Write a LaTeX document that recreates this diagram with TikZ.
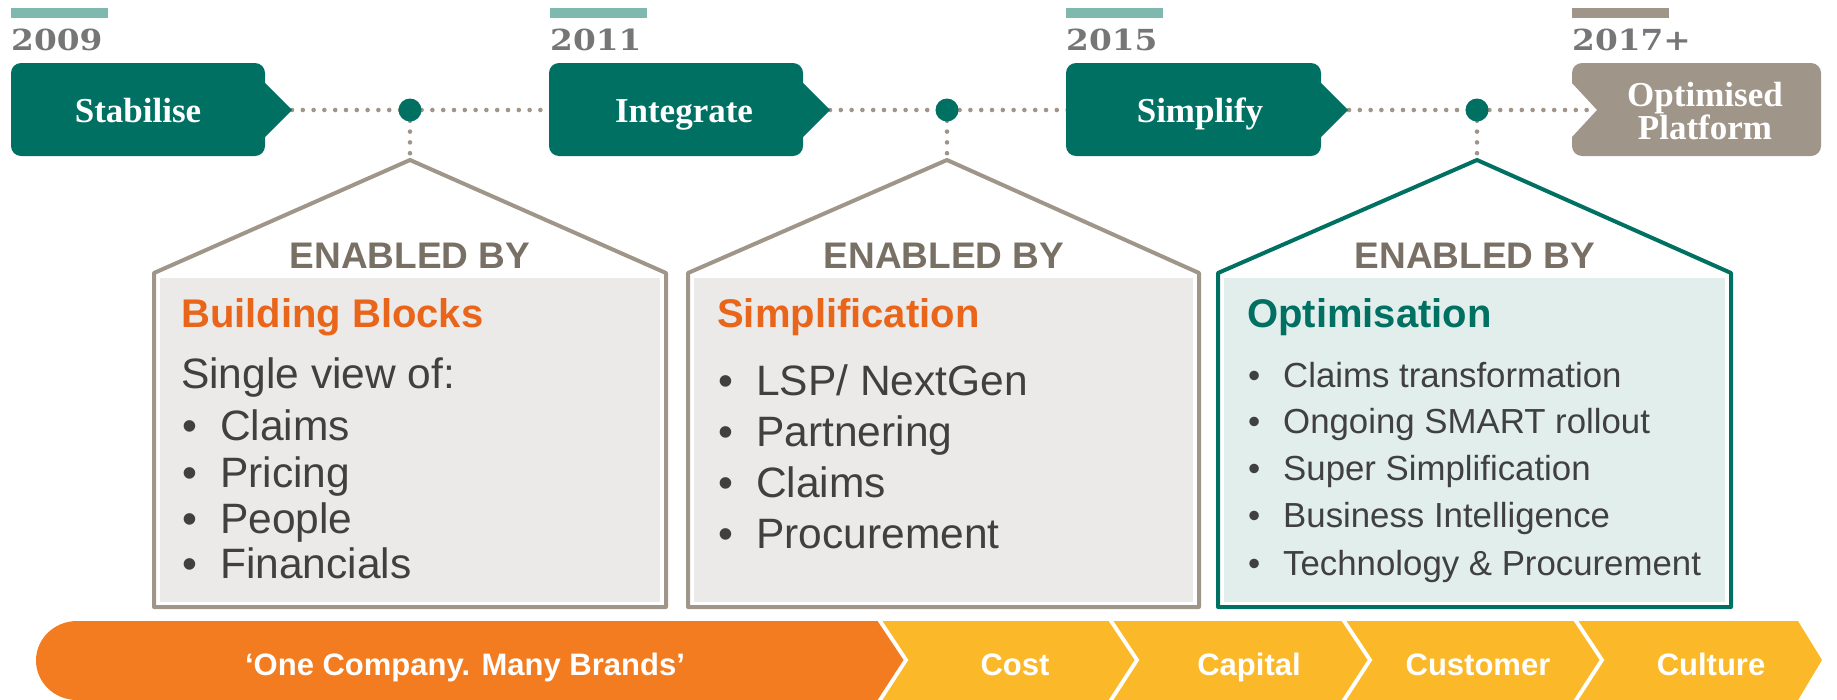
\documentclass[tikz,border=0pt]{standalone}
\usepackage{fontspec}
\setmainfont{Liberation Sans}
\newfontfamily\tabfont{Liberation Serif}
\newfontfamily\yearfont{DejaVu Serif}
\definecolor{tealc}{RGB}{0,112,99}
\definecolor{lightteal}{RGB}{127,184,175}
\definecolor{stone}{RGB}{160,149,137}
\definecolor{yeargray}{RGB}{118,118,118}
\definecolor{enabledgray}{RGB}{120,112,101}
\definecolor{titleorange}{RGB}{232,101,26}
\definecolor{bodygray}{RGB}{64,64,64}
\definecolor{housefill}{RGB}{235,234,232}
\definecolor{tealfill}{RGB}{226,238,236}
\definecolor{bandorange}{RGB}{244,124,32}
\definecolor{bandyellow}{RGB}{251,184,41}
\newcommand{\yearstretch}[1]{\scalebox{1.13}[1]{#1}}
\tikzset{
  tablabel/.style={anchor=base, inner sep=0, text=white, font=\tabfont\bfseries\fontsize{35}{30}\selectfont},
  tablabeltwo/.style={anchor=center, inner sep=0, text=white, align=center, font=\tabfont\bfseries\fontsize{35}{30}\selectfont},
  yearlabel/.style={anchor=base west, inner sep=0, text=yeargray, font=\yearfont\bfseries\fontsize{29}{30}\selectfont},
  enabled/.style={anchor=base, inner sep=0, text=enabledgray, font=\bfseries\fontsize{37}{40}\selectfont},
  housetitle/.style={anchor=base west, inner sep=0, font=\bfseries\fontsize{40}{42}\selectfont},
  bigitem/.style={anchor=base west, inner sep=0, text=bodygray, font=\fontsize{42.5}{46}\selectfont},
  smallitem/.style={anchor=base west, inner sep=0, text=bodygray, font=\fontsize{34.8}{38}\selectfont},
  bandtext/.style={anchor=base, inner sep=0, text=white, font=\bfseries\fontsize{31}{34}\selectfont},
  dotline/.style={draw=stone, line width=4.6pt, line cap=round, dash pattern=on 0pt off 10.8pt},
  milestone/.style={circle, fill=tealc, minimum size=23pt, inner sep=0},
  housewall/.style={line width=4pt, line join=round}
}
\begin{document}
\begin{tikzpicture}[x=1pt,y=-1pt]
\useasboundingbox (0,0) rectangle (1837,699);

% year bars
\fill[lightteal] (11,8) rectangle (108,18);
\fill[lightteal] (550,8) rectangle (647,18);
\fill[lightteal] (1066,8) rectangle (1163,18);
\fill[stone] (1572,8) rectangle (1669,18);

% years
\node[yearlabel] (y1) at (11,50) {\yearstretch{2009}};
\node[yearlabel] (y2) at (550,50) {\yearstretch{2011}};
\node[yearlabel] (y3) at (1066,50) {\yearstretch{2015}};
\node[yearlabel] (y4) at (1572,50) {\yearstretch{2017+}};

% connector coordinates
\coordinate (t1tip) at (292,110);
\coordinate (t2in) at (552,110);
\coordinate (t2tip) at (830,110);
\coordinate (t3in) at (1069,110);
\coordinate (t3tip) at (1349,110);
\coordinate (t4in) at (1597,110);
\coordinate (m1) at (410,110);
\coordinate (m2) at (947,110);
\coordinate (m3) at (1477,110);
\coordinate (h1top) at (410,160);
\coordinate (h2top) at (947,160);
\coordinate (h3top) at (1477,160);

% dotted timeline
\draw[dotline] (t1tip) -- (m1) -- (t2in);
\draw[dotline] (t2tip) -- (m2) -- (t3in);
\draw[dotline] (t3tip) -- (m3) -- (t4in);
\draw[dotline] (m1) -- (h1top);
\draw[dotline] (m2) -- (h2top);
\draw[dotline] (m3) -- (h3top);

% tabs (pointing right)
\foreach \a/\b in {11/265, 549/803, 1066/1321}{
  \fill[tealc] (\a+10,63) -- (\b-10,63) arc[start angle=270,end angle=360,radius=10]
    -- (\b,83) -- (\b+27,110) -- (\b,137) -- (\b,146) arc[start angle=0,end angle=90,radius=10]
    -- (\a+10,156) arc[start angle=90,end angle=180,radius=10]
    -- (\a,73) arc[start angle=180,end angle=270,radius=10] -- cycle;
}
% final tab (notched)
\fill[stone] (1582,63) -- (1811,63) arc[start angle=270,end angle=360,radius=10]
  -- (1821,146) arc[start angle=0,end angle=90,radius=10]
  -- (1582,156) arc[start angle=90,end angle=180,radius=10]
  -- (1572,137) -- (1597,110) -- (1572,83) -- (1572,73) arc[start angle=180,end angle=270,radius=10] -- cycle;

\node[tablabel] (stab) at (138,122) {Stabilise};
\node[tablabel] (integ) at (684,122) {Integrate};
\node[tablabel] (simp) at (1200,122) {Simplify};
\node[tablabeltwo] (opt) at (1705,111) {Optimised\\Platform};

% milestone dots
\node[milestone] (d1) at (m1) {};
\node[milestone] (d2) at (m2) {};
\node[milestone] (d3) at (m3) {};

% houses
\fill[housefill] (160,278) rectangle (660,602);
\draw[housewall, draw=stone] (154,273) -- (h1top) -- (666,273) -- (666,607) -- (154,607) -- cycle;
\fill[housefill] (694,278) rectangle (1193,602);
\draw[housewall, draw=stone] (688,273) -- (h2top) -- (1199,273) -- (1199,607) -- (688,607) -- cycle;
\fill[tealfill] (1224,278) rectangle (1725,602);
\draw[housewall, draw=tealc] (1218,273) -- (h3top) -- (1731,273) -- (1731,607) -- (1218,607) -- cycle;

\node[enabled] (e1) at (410,268) {ENABLED BY};
\node[enabled] (e2) at (944,268) {ENABLED BY};
\node[enabled] (e3) at (1475,268) {ENABLED BY};

% house 1
\node[housetitle, text=titleorange] (ti1) at (181,327) {Building Blocks};
\node[bigitem] (sv) at (181,388) {Single view of:};
\foreach \t/\yy [count=\i] in {Claims/440, Pricing/487, People/533, Financials/578}{
  \node[bigitem] (ba\i) at (182,\yy) {•};
  \node[bigitem] (ia\i) at (220,\yy) {\t};
}
% house 2
\node[housetitle, text=titleorange] (ti2) at (717,327) {Simplification};
\foreach \t/\yy [count=\i] in {{LSP/ NextGen}/395, Partnering/446, Claims/497, Procurement/548}{
  \node[bigitem] (bb\i) at (718,\yy) {•};
  \node[bigitem] (ib\i) at (756,\yy) {\t};
}
% house 3
\node[housetitle, text=tealc] (ti3) at (1247,327) {Optimisation};
\foreach \t/\yy [count=\i] in {Claims transformation/387, Ongoing SMART rollout/433, Super Simplification/480, Business Intelligence/527, Technology \& Procurement/575}{
  \node[smallitem] (bc\i) at (1248,\yy) {•};
  \node[smallitem] (ic\i) at (1283,\yy) {\t};
}

% bottom band
\fill[bandorange] (77,621) -- (877.5,621) -- (903.5,660) -- (877.5,700) -- (77,700)
  arc[start angle=90,end angle=270,x radius=41,y radius=39.5] -- cycle;
\foreach \l/\r in {880/1111, 1111/1344, 1344/1576}{
  \fill[bandyellow] (\l+2.5,621) -- (\r-2.5,621) -- (\r+23.5,660) -- (\r-2.5,700)
    -- (\l+2.5,700) -- (\l+28.5,660) -- cycle;
}
\fill[bandyellow] (1578.5,621) -- (1798,621) -- (1822,660) -- (1798,700) -- (1578.5,700) -- (1604.5,660) -- cycle;

\node[bandtext] (b0) at (465,675) {‘One Company. Many Brands’};
\node[bandtext] (b1) at (1015,675) {Cost};
\node[bandtext] (b2) at (1249,675) {Capital};
\node[bandtext] (b3) at (1478,675) {Customer};
\node[bandtext] (b4) at (1711,675) {Culture};
\end{tikzpicture}
\end{document}
